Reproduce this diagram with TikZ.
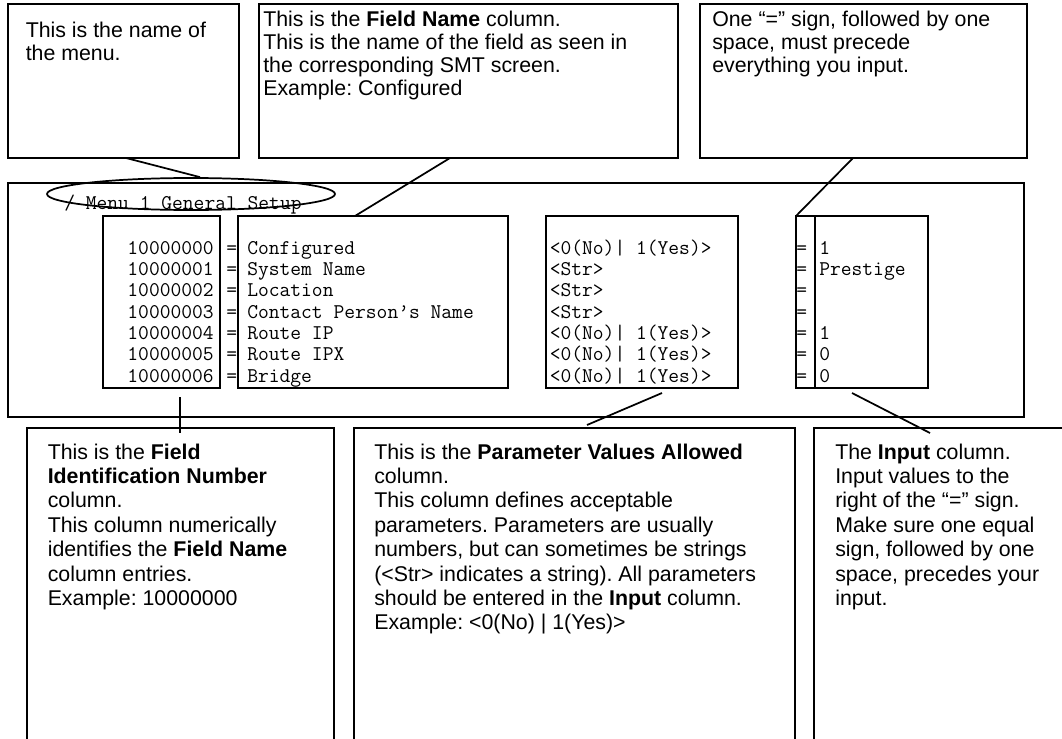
\documentclass[tikz,border=0pt]{standalone}
\usepackage{fontspec}
\setmainfont{Liberation Sans}
\usetikzlibrary{shapes.geometric,calc}
\frenchspacing
\newcommand\sst{\rule{0pt}{13pt}}
\newcommand\mst{\rule{0pt}{12pt}}
\newcommand\mkbox[5]{\node[frame,minimum width={(#4-#2)*0.75pt},minimum height={(#5-#3)*0.75pt}] (#1) at (#2,#3) {};}
\begin{document}
\begin{tikzpicture}[x=0.75pt,y=-0.75pt,
  frame/.style={draw,line width=1.3pt,inner sep=0,outer sep=0,anchor=north west},
  link/.style={line width=1.3pt},
  sans/.style={inner sep=0,anchor=north west,align=left,font=\fontsize{16}{18.3}\selectfont},
  topsans/.style={sans,font=\fontsize{16}{17.3}\selectfont},
  mono/.style={inner sep=0,anchor=north west,align=left,font=\ttfamily\fontsize{15.71}{16}\selectfont},
]
\useasboundingbox (0,0) rectangle (1062,738);
% top callout boxes
\mkbox{box1}{8}{4}{239}{158}
\mkbox{box2}{259}{4}{678}{158}
\mkbox{box3}{700}{4}{1027}{158}
% main screen
\mkbox{screen}{8}{183}{1024}{417}
\mkbox{idbox}{103}{216}{220}{388}
\mkbox{fname}{238}{216}{508}{388}
\mkbox{param}{546}{216}{738}{388}
\mkbox{inpeq}{796}{216}{815}{388}
\mkbox{inpval}{815}{216}{928}{388}
% bottom callout boxes (open at the bottom)
\mkbox{boxa}{27}{428}{334}{760}
\mkbox{boxb}{354}{428}{795}{760}
\mkbox{boxc}{814}{428}{1080}{760}

% top texts
\node[topsans] (t1) at (25.5,20) {\sst This is the name of\\the menu.};
\node[topsans] (t2) at (263,9) {\sst This is the \textbf{Field Name} column.\\This is the name of the field as seen in\\the corresponding SMT screen.\\Example: Configured};
\node[topsans] (t3) at (712,9) {\sst One “=” sign, followed by one\\space, must precede\\everything you input.};

% screen texts
\node[mono,anchor=base west] (menu) at (64,209) {/ Menu 1 General Setup};
\node[mono,anchor=north east,align=right] (ids) at (214,238) {\mst 10000000\\10000001\\10000002\\10000003\\10000004\\10000005\\10000006};
\node[mono] (eqa) at (226,238) {\mst =\\=\\=\\=\\=\\=\\=};
\node[mono] (names) at (247,238) {\mst Configured\\System Name\\Location\\Contact Person’s Name\\Route IP\\Route IPX\\Bridge};
\node[mono] (vals) at (549.5,238) {\mst <0(No)| 1(Yes)>\\<Str>\\<Str>\\<Str>\\<0(No)| 1(Yes)>\\<0(No)| 1(Yes)>\\<0(No)| 1(Yes)>};
\node[mono] (eqb) at (796,238) {\mst =\\=\\=\\=\\=\\=\\=};
\node[mono] (inputs) at (819,238) {\mst 1\\Prestige\\\mst\\\mst\\1\\0\\0};

\node[ellipse,draw,line width=1.3pt,minimum width=216pt,minimum height=24pt,inner sep=0] (oval) at (191,194) {};

% bottom texts
\node[sans] (ta) at (47.5,441.5) {\sst This is the \textbf{Field}\\\textbf{Identification Number}\\column.\\This column numerically\\identifies the \textbf{Field Name}\\column entries.\\Example: 10000000};
\node[sans] (tb) at (374,441.5) {\sst This is the \textbf{Parameter Values Allowed}\\column.\\This column defines acceptable\\parameters. Parameters are usually\\numbers, but can sometimes be strings\\(<Str> indicates a string). All parameters\\should be entered in the \textbf{Input} column.\\Example: <0(No) | 1(Yes)>};
\node[sans] (tc) at (835,441.5) {\sst The \textbf{Input} column.\\Input values to the\\right of the “=” sign.\\Make sure one equal\\sign, followed by one\\space, precedes your\\input.};

% connectors
\draw[link] ($(box1.south west)+(118,0)$) -- ($(oval.north)+(9,0)$);
\draw[link] ($(box2.south west)+(191,0)$) -- ($(fname.north west)+(117,0)$);
\draw[link] ($(box3.south west)+(153,0)$) -- (inpeq.north west);
\draw[link] ($(idbox.south west)+(77,9)$) -- ($(boxa.north west)+(153,5)$);
\draw[link] ($(param.south west)+(116,5)$) -- ($(boxb.north west)+(233,-3)$);
\draw[link] ($(inpeq.south west)+(56,5)$) -- ($(boxc.north west)+(116,5)$);
\end{tikzpicture}
\end{document}
